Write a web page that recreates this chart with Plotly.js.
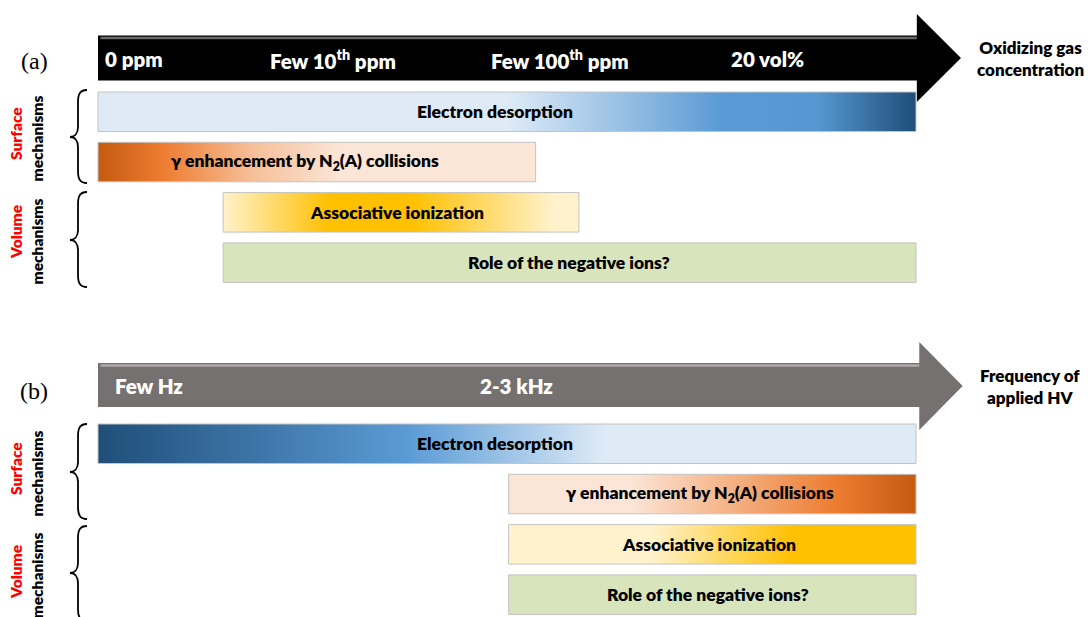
<!DOCTYPE html>
<html>
<head>
<meta charset="utf-8">
<script src="https://cdn.plot.ly/plotly-3.0.1.min.js"></script>
<style>
html,body{margin:0;padding:0;background:#fff;}
#chart{width:1088px;height:617px;}
</style>
</head>
<body>
<div id="chart"></div>
<script>
// ---------------- DATA ----------------
const mechanisms = ['Electron desorption', 'γ enhancement by N<sub>2</sub>(A) collisions', 'Associative ionization', 'Role of the negative ions?'];
// positions along the (relative) axis, 0 = start of arrow, 100 = end of arrow body
const startA = [0, 0, 15.3, 15.3];
const endA   = [100, 53.5, 58.8, 100];
const startB = [0, 50.2, 50.2, 50.2];
const endB   = [100, 100, 100, 100];
const axisLabelsA = ['0 ppm', 'Few 10<sup>th</sup> ppm', 'Few 100<sup>th</sup> ppm', '20 vol%'];
const axisValuesA = [0.6, 28.7, 56.5, 81.9];
const axisLabelsB = ['Few Hz', '2-3 kHz'];
const axisValuesB = [1.8, 51.2];
const axisTitleA = 'Oxidizing gas<br>concentration';
const axisTitleB = 'Frequency of<br>applied HV';
const panelLabels = ['(a)', '(b)'];
const groupLabels = ['Surface', 'Volume'];

// ---------------- STYLE / LAYOUT ----------------
const W = 1088, H = 617;
const PX0 = 98, PX100 = 916;
const k = (PX100 - PX0) / 100;
const X0 = -PX0 / k, X1 = X0 + W / k;
const FONT = "Lato, 'Open Sans', sans-serif";
const pitch = 50.3, barH = 39.5;
const panelTop = [92, 424];
const labelPosA = [48.5, 25.3, 36.6, 57.6];
const labelPosB = [48.5, 73.6, 74.7, 74.6];

const gradA = [
  [[0,'#DEEBF7'],[0.5,'#DEEBF7'],[0.76,'#5B9BD5'],[0.88,'#5697D2'],[1,'#1F4E79']],
  [[0,'#C55A11'],[0.15,'#ED7D31'],[0.35,'#F6BE98'],[0.55,'#FBE5D6'],[1,'#FBE5D6']],
  [[0,'#FFF2CC'],[0.3,'#FFC000'],[0.53,'#FFC000'],[0.93,'#FFF2CC'],[1,'#FFF2CC']],
  [[0,'#D8E4BC'],[1,'#D8E4BC']]
];
const gradB = [
  [[0,'#1F4E79'],[0.38,'#5B9BD5'],[0.62,'#DEEBF7'],[1,'#DEEBF7']],
  [[0,'#FBE5D6'],[0.3,'#FBE5D6'],[0.55,'#F4B183'],[0.8,'#ED7D31'],[1,'#C55A11']],
  [[0,'#FFF2CC'],[0.35,'#FFF2CC'],[0.7,'#FFC000'],[1,'#FFC000']],
  [[0,'#D8E4BC'],[1,'#D8E4BC']]
];

const traces = [];
const annotations = [];
const shapes = [];

function addBars(starts, ends, grads, top, labelPos) {
  for (let i = 0; i < starts.length; i++) {
    const y0 = top + i * pitch, y1 = y0 + barH;
    traces.push({
      type: 'scatter', mode: 'lines',
      x: [starts[i], ends[i], ends[i], starts[i], starts[i]],
      y: [y0, y0, y1, y1, y0],
      fill: 'toself',
      fillgradient: {type: 'horizontal', colorscale: grads[i]},
      fillcolor: grads[i][Math.floor(grads[i].length/2)][1],
      line: {color: '#C3C3C3', width: 1},
      hoverinfo: 'skip', showlegend: false
    });
    annotations.push({
      xref: 'x', yref: 'y', x: labelPos[i], y: (y0 + y1) / 2,
      text: mechanisms[i], showarrow: false,
      font: {family: FONT, size: 17.5, color: '#000', weight: 800},
      xanchor: 'center', yanchor: 'middle'
    });
  }
}
addBars(startA, endA, gradA, panelTop[0], labelPosA);
addBars(startB, endB, gradB, panelTop[1], labelPosB);

// arrows
function arrow(bodyEnd, bt, bb, ht, hb, tip, fill, hilite) {
  const ym = (ht + hb) / 2;
  shapes.push({
    type: 'path', xref: 'x', yref: 'y', layer: 'below',
    path: `M 0 ${bt} L ${bodyEnd} ${bt} L ${bodyEnd} ${ht} L ${tip} ${ym} L ${bodyEnd} ${hb} L ${bodyEnd} ${bb} L 0 ${bb} Z`,
    fillcolor: fill, line: {width: 0}
  });
  shapes.push({
    type: 'line', xref: 'x', yref: 'y', x0: 0.3, x1: bodyEnd, y0: bt + 2.5, y1: bt + 2.5,
    line: {color: hilite, width: 2.5}
  });
}
arrow(100.1, 35.5, 80.5, 14, 102, 105.5, '#000000', '#6a6a6a');
arrow(100.4, 363, 407, 342, 430, 105.7, '#767171', '#aeaaaa');

function arrowLabels(labels, values, y, firstLeft) {
  labels.forEach((t, i) => {
    annotations.push({
      xref: 'x', yref: 'y', x: values[i], y: y, text: t, showarrow: false,
      font: {family: FONT, size: 20.5, color: '#fff', weight: 800},
      xanchor: (i === 0 && firstLeft) ? 'left' : 'center', yanchor: 'middle'
    });
  });
}
arrowLabels(axisLabelsA, axisValuesA, 59, true);
arrowLabels(axisLabelsB, axisValuesB, 386, true);

annotations.push({xref: 'paper', yref: 'y', x: 1030/W, y: 58, text: axisTitleA, showarrow: false,
  font: {family: FONT, size: 17, color: '#000', weight: 800}, align: 'center', xanchor: 'center', yanchor: 'middle'});
annotations.push({xref: 'paper', yref: 'y', x: 1030/W, y: 386, text: axisTitleB, showarrow: false,
  font: {family: FONT, size: 17, color: '#000', weight: 800}, align: 'center', xanchor: 'center', yanchor: 'middle'});

// panel labels
[[61, 0], [391, 1]].forEach(([y, i]) => {
  annotations.push({xref: 'paper', yref: 'y', x: 34/W, y: y, text: panelLabels[i], showarrow: false,
    font: {family: "'Liberation Serif', 'Times New Roman', serif", size: 24, color: '#000'},
    xanchor: 'center', yanchor: 'middle'});
});

// group labels (rotated) and braces
const groups = [
  {name: groupLabels[0], yc: 134, bt: 90, bm: 137, bb: 183},
  {name: groupLabels[1], yc: 232, bt: 192, bm: 240, bb: 287},
  {name: groupLabels[0], yc: 469, bt: 424, bm: 472, bb: 519},
  {name: groupLabels[1], yc: 572, bt: 526, bm: 573, bb: 621}
];
function P(x) { return (x / W).toFixed(5); }
groups.forEach(g => {
  annotations.push({xref: 'paper', yref: 'y', x: 16/W, y: g.yc, text: g.name, showarrow: false, textangle: -90,
    font: {family: FONT, size: 15.5, color: '#FF0000', weight: 800}, xanchor: 'center', yanchor: 'middle'});
  annotations.push({xref: 'paper', yref: 'y', x: 36/W, y: (g.bt + g.bb) / 2 + 2, text: 'mechanisms', showarrow: false, textangle: -90,
    font: {family: FONT, size: 15.5, color: '#000', weight: 800}, xanchor: 'center', yanchor: 'middle'});
  const e = 87, s = 78, t = 70, y0 = g.bt, ym = g.bm, y1 = g.bb;
  shapes.push({
    type: 'path', xref: 'paper', yref: 'y',
    path: `M ${P(e)} ${y0} C ${P(80)} ${y0} ${P(s)} ${y0+4} ${P(s)} ${y0+12} L ${P(s)} ${ym-10} C ${P(s)} ${ym-4} ${P(75)} ${ym} ${P(t)} ${ym} C ${P(75)} ${ym} ${P(s)} ${ym+4} ${P(s)} ${ym+10} L ${P(s)} ${y1-12} C ${P(s)} ${y1-4} ${P(80)} ${y1} ${P(e)} ${y1}`,
    line: {color: '#000', width: 1.8}
  });
});

const layout = {
  width: W, height: H,
  margin: {l: 0, r: 0, t: 0, b: 0},
  paper_bgcolor: '#fff', plot_bgcolor: '#fff',
  showlegend: false,
  xaxis: {range: [X0, X1], visible: false, fixedrange: true},
  yaxis: {range: [H, 0], visible: false, fixedrange: true},
  shapes: shapes,
  annotations: annotations
};

Plotly.newPlot('chart', traces, layout, {displayModeBar: false, staticPlot: true});
</script>
</body>
</html>
